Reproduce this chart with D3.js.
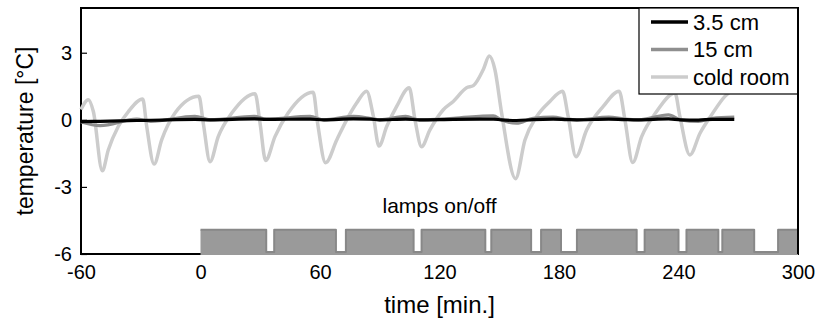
<!DOCTYPE html>
<html>
<head>
<meta charset="utf-8">
<script src="https://cdn.jsdelivr.net/npm/d3@7"></script>
<style>
  body { margin: 0; background: #fff; }
  svg { display: block; font-family: "Liberation Sans", Arial, sans-serif; }
</style>
</head>
<body>
<svg id="chart" width="817" height="320"></svg>
<script>
// time axis in minutes, temperatures in deg C
const xTicks = [-60, 0, 60, 120, 180, 240, 300];
const yTicks = [-6, -3, 0, 3];

const coldTime = [-60, -56.3, -53.8, -49.3, -46.3, -41.3, -36.2, -29, -27, -23.3, -19.5, -12.8, -0.8, 1.4, 4.8,
    8.9, 15.7, 27.4, 29.9, 32.7, 37.4, 44, 56.6, 58.8, 62.8, 68.4, 73.4, 78.4, 83.4, 86.8, 89.6, 93.5, 98.5,
    104.8, 107.7, 111, 115.2, 121.9, 126.9, 133.6, 137, 142, 145, 147.8, 151.2, 158.2, 162.9, 168.8, 175.4,
    181.8, 184.6, 188.5, 193.9, 202.2, 210.2, 213.1, 217, 221.5, 229, 238.2, 240.7, 245.7, 250.8, 256.6,
    263.3, 268];
const coldRoom = [0.46, 0.9, 0.37, -2.28, -1.35, -0.3, 0.37, 0.93, -0.3, -1.98, -0.9, 0.3, 1.05, -0.15, -1.87,
    -0.75, 0.3, 1.17, -0.15, -1.82, -0.75, 0.3, 1.23, -0.15, -1.92, -0.9, 0, 0.75, 1.28, 0.15, -1.17, -0.3, 0.6,
    1.43, 0, -1.2, -0.45, 0.45, 0.82, 1.43, 1.53, 2.25, 2.85, 2.25, 0.3, -2.63, -0.9, 0.15, 0.82,
    1.28, 0.15, -1.65, -0.45, 0.6, 1.28, 0, -1.91, -0.75, 0.37, 1.2, 0.15, -1.57, -0.6, 0.22,
    1.05, 1.4];

const depthTime = [-60, -50.4, -32, -25, -2.8, 5, 27, 33, 55, 62, 76.7, 85, 90, 103, 110, 127, 147, 151,
    158.7, 167, 177, 184, 189, 205, 213, 220, 235, 241, 250, 257, 268];
const depth15 = [-0.1, -0.26, 0.03, -0.07, 0.15, 0, 0.15, 0.03, 0.15, 0, 0.15, 0.07, 0, 0.15, 0, 0.07, 0.18, 0,
    -0.15, 0.07, 0.12, 0.03, 0, 0.12, 0.03, 0, 0.22, 0, -0.07, 0.07, 0.12];
const depth35 = [-0.08, -0.07, -0.03, -0.02, 0.02, 0, 0.04, 0.02, 0.03, 0, 0.04, 0.03, 0, 0.03, 0, 0.02, 0.03, 0,
    -0.03, 0.01, 0.03, 0.01, 0, 0.03, 0.01, 0, 0.04, 0, -0.01, 0.02, 0.02];

// lamp switched on (start, end) in minutes
const lampStart = [0, 37, 73, 111, 146, 171, 189, 223, 244, 262, 290];
const lampEnd = [33, 68, 107, 143, 166, 181, 219, 240, 260, 278, 300];
const lampOn = -5, lampOff = -6;

const seriesNames = ['3.5 cm', '15 cm', 'cold room'];
const seriesColors = ['#000000', '#8f8f8f', '#cccccc'];

const svg = d3.select('#chart');
const margin = {top: 8, right: 19, bottom: 66, left: 81};
const W = 817 - margin.left - margin.right;
const H = 320 - margin.top - margin.bottom;

const x = d3.scaleLinear().domain([-60, 300]).range([0, W]);
const y = d3.scaleLinear().domain([-6, 5]).range([H, 0]);

const g = svg.append('g').attr('transform', `translate(${margin.left},${margin.top})`);

// frame
g.append('rect')
    .attr('x', 0).attr('y', 0).attr('width', W).attr('height', H)
    .attr('fill', 'none').attr('stroke', '#000').attr('stroke-width', 2);

// y axis, ticks pointing inward; plain hyphen for negatives
const yAxis = g.append('g').call(d3.axisLeft(y).tickValues(yTicks).tickFormat(d => String(d))
    .tickSizeInner(-6).tickSizeOuter(0).tickPadding(9));
yAxis.select('.domain').remove();
yAxis.selectAll('line').attr('stroke-width', 1.2);
yAxis.selectAll('text').style('font-size', '20px').attr('fill', '#000');

const xAxis = g.append('g').attr('transform', `translate(0,${H})`)
    .call(d3.axisBottom(x).tickValues(xTicks).tickFormat(d => String(d)).tickSize(0).tickPadding(11));
xAxis.select('.domain').remove();
xAxis.selectAll('text').style('font-size', '20px').attr('fill', '#000');

// lamp on/off step signal, lifted a little so the black baseline shows in the gaps
const lampPts = [];
lampStart.forEach((s, i) => {
    lampPts.push([s, lampOn]);
    lampPts.push([lampEnd[i], lampOff]);
});

const lamps = g.append('g').attr('transform', 'translate(0,-2)');
lamps.append('path')
    .datum(lampPts)
    .attr('fill', '#9a9a9a')
    .attr('d', d3.area().curve(d3.curveStepAfter)
        .x(d => x(d[0])).y0(y(lampOff) + 3).y1(d => y(d[1])));

lamps.append('path')
    .datum(lampPts)
    .attr('fill', 'none')
    .attr('stroke', '#888')
    .attr('stroke-width', 2)
    .attr('stroke-linejoin', 'round')
    .attr('d', d3.line().curve(d3.curveStepAfter).x(d => x(d[0])).y(d => y(d[1])));

g.append('text')
    .attr('x', W / 2).attr('y', y(-4.18))
    .attr('text-anchor', 'middle')
    .style('font-size', '21px')
    .text('lamps on/off');

// temperature lines
const line = d3.line().curve(d3.curveMonotoneX).x(d => x(d[0])).y(d => y(d[1]));
const series = [
    {t: coldTime, v: coldRoom, w: 3.5, c: seriesColors[2]},
    {t: depthTime, v: depth15, w: 3.2, c: seriesColors[1]},
    {t: depthTime, v: depth35, w: 3.2, c: seriesColors[0]}
];
series.forEach(s => {
    g.append('path')
        .datum(s.t.map((t, i) => [t, s.v[i]]))
        .attr('fill', 'none')
        .attr('stroke', s.c)
        .attr('stroke-width', s.w)
        .attr('stroke-linejoin', 'round')
        .attr('d', line);
});

// legend box, top right corner
const legW = 159, legH = 86, rowH = 27.5;
const legend = g.append('g').attr('transform', `translate(${W - legW},0)`);
legend.append('rect')
    .attr('width', legW).attr('height', legH)
    .attr('fill', '#fff').attr('stroke', '#000').attr('stroke-width', 1.2);
seriesNames.forEach((name, i) => {
    const cy = 14 + i * rowH;
    legend.append('line')
        .attr('x1', 12).attr('x2', 49).attr('y1', cy).attr('y2', cy)
        .attr('stroke', seriesColors[i]).attr('stroke-width', 3.5);
    legend.append('text')
        .attr('x', 54).attr('y', cy).attr('dy', '0.35em')
        .style('font-size', '22px')
        .text(name);
});

// redraw right frame over the legend
g.append('line').attr('x1', W).attr('x2', W).attr('y1', 0).attr('y2', H)
    .attr('stroke', '#000').attr('stroke-width', 2);

// axis titles
svg.append('text')
    .attr('x', margin.left + W / 2).attr('y', 313)
    .attr('text-anchor', 'middle')
    .style('font-size', '24px')
    .text('time [min.]');

svg.append('text')
    .attr('transform', `translate(33,${margin.top + H / 2}) rotate(-90)`)
    .attr('text-anchor', 'middle')
    .style('font-size', '23px')
    .text('temperature [°C]');
</script>
</body>
</html>
